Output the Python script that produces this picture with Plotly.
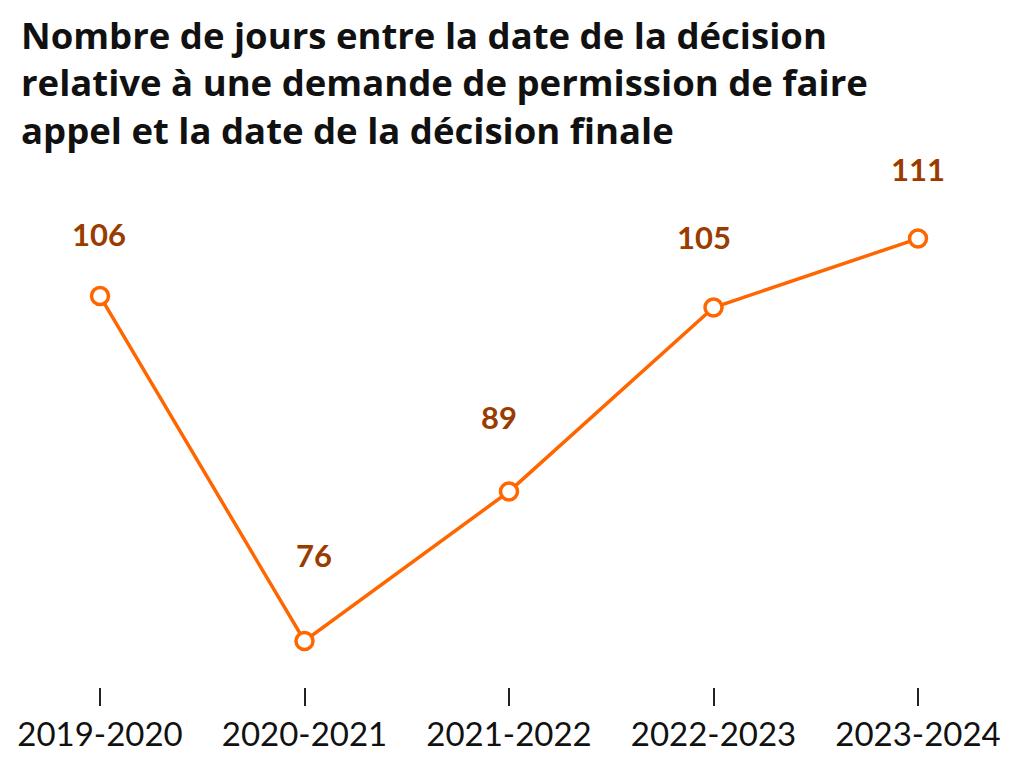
import plotly.graph_objects as go

categories = ["2019-2020", "2020-2021", "2021-2022", "2022-2023", "2023-2024"]
values = [106, 76, 89, 105, 111]
label_shift = [62, 86, 75, 71, 70]
label_xshift = [-1, 9, -10, -10, 0]

title_lines = [
    "Nombre de jours entre la date de la décision",
    "relative à une demande de permission de faire",
    "appel et la date de la décision finale",
]

line_color = "#FF6600"
label_color = "#9A3C00"

W, H = 1016, 760
MT, MB = 152, 81
PH = H - MT - MB

fig = go.Figure()
fig.add_trace(go.Scatter(
    x=list(range(len(categories))), y=values, mode="lines+markers",
    line=dict(color=line_color, width=3.5),
    marker=dict(size=17, color="white", line=dict(color=line_color, width=3.5)),
    hoverinfo="skip", showlegend=False,
))

for i, v in enumerate(values):
    fig.add_annotation(x=i, y=v, text=f"<b>{v}</b>", showarrow=False,
                       yshift=label_shift[i], xshift=label_xshift[i],
                       font=dict(family="Lato", size=31, color=label_color))

fig.add_annotation(xref="paper", yref="paper", x=0.012, y=1, yshift=4,
                   xanchor="left", yanchor="bottom", align="left", showarrow=False,
                   text="<br>".join(title_lines), borderpad=0,
                   font=dict(family="Open Sans", size=36.5, weight=700, color="#111111"))

fig.update_layout(
    width=W, height=H,
    paper_bgcolor="white", plot_bgcolor="white",
    margin=dict(l=0, r=0, t=MT, b=MB),
    xaxis=dict(range=[(8 - 100) / 204.5, (1024 - 100) / 204.5], tickmode="array",
               tickvals=list(range(len(categories))), ticktext=categories,
               showgrid=False, zeroline=False, showline=False,
               ticks="outside", ticklen=18, tickwidth=1.5, tickcolor="#222222",
               tickfont=dict(family="Lato", size=33, color="#111111")),
    yaxis=dict(range=[72, 117.83], visible=False, showgrid=False, zeroline=False),
)

fig.write_html("out.html")
